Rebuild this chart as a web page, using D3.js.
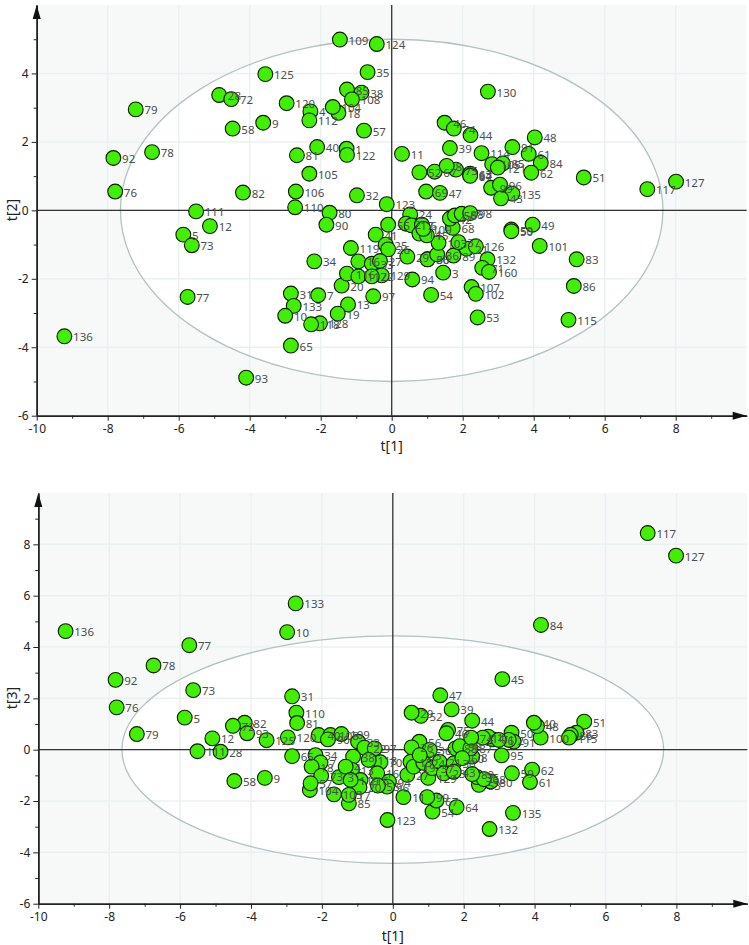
<!DOCTYPE html>
<html>
<head>
  <meta charset="utf-8">
  <title>Score scatter plots</title>
  <script src="https://d3js.org/d3.v7.min.js"></script>
  <style>
    body, html { margin: 0; background: #fff; }
    svg { display: block; font-family: "Noto Sans", sans-serif; }
  </style>
</head>
<body>
  <svg></svg>
  <script>
    // upper plot, t[1] against t[2]
    const ids12 = ["109","125","79","28","72","120","58","9","4","112","18","104","85","38","108","35","124","57","78","92","76","82","40","81","1","122","105","106","32","110","111","80","90","12","5","73","34","119","77","31","7","133","10","13","19","20","65","128","118","136","93","16","33","116","129","117","22","97","41","55","25","26","27","29","30","66","36","89","21","126","103","37","132","71","160","3","94","54","107","102","53","115","86","83","101","49","59","50","68","24","2","17","6","14","15","109","42","56","88","98","123","69","47","11","39","46","74","44","130","114","91","48","61","84","62","51","117","127","52","67","75","8","64","63","87","105","85","121","99","96","135","43"];
    const t1a = [-1.46,-3.56,-7.21,-4.86,-4.52,-2.96,-4.48,-3.62,-2.29,-2.32,-1.50,-1.66,-1.26,-0.85,-1.12,-0.68,-0.42,-0.78,-6.75,-7.84,-7.79,-4.19,-2.10,-2.67,-1.27,-1.26,-2.32,-2.70,-0.98,-2.72,-5.51,-1.75,-1.84,-5.12,-5.87,-5.63,-2.18,-1.15,-5.75,-2.84,-2.07,-2.76,-3.00,-1.23,-1.52,-1.41,-2.84,-2.02,-2.27,-9.22,-4.10,-0.94,-0.56,-1.26,-0.28,-0.94,-0.56,-0.52,-0.45,-0.10,-0.17,-0.10,-0.33,0.44,1.01,1.01,1.28,1.74,2.11,2.37,1.32,1.88,2.70,2.55,2.74,1.45,0.58,1.11,2.25,2.37,2.42,4.98,5.13,5.21,4.17,3.97,3.37,3.37,1.72,0.52,0.40,0.56,0.85,0.78,0.99,0.89,1.64,1.78,1.97,2.21,-0.14,0.97,1.36,0.29,1.64,1.49,1.75,2.22,2.71,2.53,3.40,4.03,3.86,4.20,3.93,5.41,7.20,8.01,0.78,1.21,1.81,1.55,2.21,2.21,2.21,2.83,3.13,2.99,2.80,3.05,3.40,3.08];
    const t2 = [4.99,3.98,2.95,3.37,3.25,3.13,2.39,2.56,2.89,2.63,2.85,3.02,3.53,3.44,3.24,4.04,4.86,2.33,1.70,1.53,0.55,0.52,1.85,1.61,1.80,1.62,1.07,0.55,0.44,0.09,-0.03,-0.07,-0.42,-0.46,-0.71,-1.02,-1.49,-1.10,-2.53,-2.43,-2.48,-2.79,-3.08,-2.75,-3.02,-2.20,-3.95,-3.30,-3.33,-3.68,-4.89,-1.49,-1.56,-1.85,-1.90,-1.93,-1.93,-2.51,-0.71,-0.42,-1.00,-1.14,-1.48,-1.35,-1.43,-1.43,-1.29,-1.32,-1.12,-1.05,-0.95,-0.93,-1.43,-1.68,-1.80,-1.82,-2.02,-2.47,-2.24,-2.44,-3.13,-3.20,-2.21,-1.43,-1.04,-0.42,-0.56,-0.61,-0.51,-0.12,-0.39,-0.44,-0.42,-0.68,-0.73,-0.54,-0.24,-0.15,-0.10,-0.08,0.18,0.55,0.51,1.65,1.82,2.56,2.39,2.20,3.47,1.67,1.85,2.13,1.65,1.39,1.10,0.96,0.62,0.84,1.11,1.13,1.19,1.30,1.04,1.07,1.01,1.35,1.37,1.25,0.66,0.75,0.49,0.35];

    // lower plot, t[1] against t[3]
    const ids13 = ["136","133","10","77","78","92","73","31","76","110","81","5","79","82","72","93","12","125","120","111","28","58","9","65","40","108","109","90","33","22","97","38","70","34","7","18","118","73","13","3","16","116","104","105","4","85","20","17","119","123","11","54","64","67","99","135","132","62","61","59","95","51","83","86","115","100","48","40","45","84","117","127","47","39","44","52","29","75","46","71","1","14","50","91","2","6","56","36","26","27","15","19","129","24","8","25","37","21","23","30","43","88","98","87","60","80","53","74","35","68","89","94","96","55","57"];
    const t1b = [-9.23,-2.74,-2.98,-5.74,-6.75,-7.82,-5.63,-2.84,-7.79,-2.72,-2.70,-5.87,-7.22,-4.18,-4.51,-4.11,-5.09,-3.56,-2.96,-5.51,-4.86,-4.47,-3.61,-2.84,-2.09,-1.76,-1.45,-1.83,-0.98,-0.80,-0.51,-1.12,-0.35,-2.18,-2.04,-2.29,-0.68,-2.02,-1.15,-1.52,-0.44,-0.91,-2.34,-1.66,-1.33,-1.24,-0.94,-1.24,-1.19,-0.15,0.30,1.12,1.80,1.23,0.97,3.39,2.73,3.93,3.87,3.36,3.07,5.40,5.18,5.02,4.97,4.17,4.07,3.98,3.09,4.18,7.19,7.99,1.34,1.66,2.24,0.79,0.53,1.56,1.51,2.82,2.69,2.54,3.35,3.41,3.27,2.99,0.75,1.04,0.53,0.41,0.50,0.59,1.00,0.86,2.24,0.76,1.11,1.32,1.44,1.72,1.72,1.77,1.89,2.19,1.96,2.76,2.43,2.21,2.38,2.57,2.24,-0.11,-0.16,-0.42,-2.32];
    const t3 = [4.62,5.70,4.58,4.07,3.28,2.72,2.32,2.08,1.65,1.44,1.04,1.25,0.61,1.05,0.93,0.64,0.44,0.37,0.48,-0.06,-0.08,-1.22,-1.10,-0.25,0.57,0.57,0.61,0.40,0.31,0.08,0.05,-0.27,-0.49,-0.21,-0.50,-0.66,-0.40,-1.02,-0.79,-1.07,-0.92,-1.18,-1.57,-1.74,-0.66,-2.09,-1.46,-1.76,-1.18,-2.74,-1.85,-2.41,-2.24,-1.98,-1.85,-2.46,-3.09,-0.78,-1.26,-0.92,-0.22,1.09,0.66,0.58,0.47,0.47,0.92,1.05,2.75,4.86,8.44,7.56,2.12,1.57,1.13,1.32,1.44,0.77,0.64,0.40,0.51,0.47,0.66,0.31,0.38,0.38,0.31,-0.01,0.09,-0.98,-0.47,-0.66,-1.10,-0.51,-0.27,-0.21,-0.72,-0.47,-0.92,-0.53,-0.86,0.05,0.14,0.05,-0.33,-1.24,-1.37,0.47,-1.07,-1.15,-0.95,-1.24,-1.44,-1.40,-1.31];

    const xTicks = [-10, -8, -6, -4, -2, 0, 2, 4, 6, 8];
    const xMinor = [-9, -7, -5, -3, -1, 1, 3, 5, 7, 9];
    const yTicks12 = [-6, -4, -2, 0, 2, 4];
    const yMinor12 = [-5, -3, -1, 1, 3, 5];
    const yTicks13 = [-6, -4, -2, 0, 2, 4, 6, 8];
    const yMinor13 = [-5, -3, -1, 1, 3, 5, 7, 9];

    const width = 749;
    const height = 945;
    const svg = d3.select("svg")
      .attr("width", width)
      .attr("height", height)
      .attr("viewBox", [0, 0, width, height]);

    function drawPlot(opt) {
      const x = d3.scaleLinear().domain([-10, 10]).range(opt.xRange);
      const y = d3.scaleLinear().domain(opt.yDomain).range(opt.yRange);
      const g = svg.append("g");

      g.append("rect")
        .attr("x", x(-10)).attr("y", y.range()[1])
        .attr("width", x(10) - x(-10))
        .attr("height", y.range()[0] - y.range()[1])
        .attr("fill", "#f7f9f9");

      // white Hotelling ellipse with its outline
      g.append("ellipse")
        .attr("cx", x(0)).attr("cy", y(0))
        .attr("rx", x(opt.ellipseX) - x(0))
        .attr("ry", y(0) - y(opt.ellipseY))
        .attr("fill", "#fff");

      // grid
      g.append("g").selectAll("line").data(xTicks.slice(1)).join("line")
        .attr("x1", d => x(d)).attr("x2", d => x(d))
        .attr("y1", y.range()[0]).attr("y2", y.range()[1])
        .attr("stroke", "#ebf0f1").attr("stroke-width", 1.5);
      g.append("g").selectAll("line").data(opt.yTicks.slice(1)).join("line")
        .attr("x1", x(-10)).attr("x2", x(10))
        .attr("y1", d => y(d)).attr("y2", d => y(d))
        .attr("stroke", "#ebf0f1").attr("stroke-width", 1.5);

      g.append("ellipse")
        .attr("cx", x(0)).attr("cy", y(0))
        .attr("rx", x(opt.ellipseX) - x(0))
        .attr("ry", y(0) - y(opt.ellipseY))
        .attr("fill", "none")
        .attr("stroke", "#b4c2c2")
        .attr("stroke-width", 1.3);

      // zero lines
      g.append("line")
        .attr("x1", x(-10)).attr("x2", x(10))
        .attr("y1", y(0)).attr("y2", y(0))
        .attr("stroke", "#333").attr("stroke-width", 1.3);
      g.append("line")
        .attr("x1", x(0)).attr("x2", x(0))
        .attr("y1", y.range()[0]).attr("y2", y.range()[1])
        .attr("stroke", "#333").attr("stroke-width", 1.3);

      // axes, major then minor ticks
      const bottom = g.append("g")
        .attr("transform", `translate(0,${y.range()[0]})`)
        .call(d3.axisBottom(x).tickValues(xTicks).tickSize(5).tickSizeOuter(0).tickPadding(4).tickFormat(d => String(d)));
      const bottomMinor = g.append("g")
        .attr("transform", `translate(0,${y.range()[0]})`)
        .call(d3.axisBottom(x).tickValues(xMinor).tickSize(3).tickSizeOuter(0).tickFormat(""));
      const left = g.append("g")
        .attr("transform", `translate(${x(-10)},0)`)
        .call(d3.axisLeft(y).tickValues(opt.yTicks).tickSize(5).tickSizeOuter(0).tickPadding(3).tickFormat(d => String(d)));
      const leftMinor = g.append("g")
        .attr("transform", `translate(${x(-10)},0)`)
        .call(d3.axisLeft(y).tickValues(opt.yMinor).tickSize(3).tickSizeOuter(0).tickFormat(""));
      [bottom, left].forEach(a => a.attr("font-family", null).attr("font-size", 12)
        .call(s => s.selectAll("text").attr("fill", "#222")));
      [bottom, left, bottomMinor, leftMinor].forEach(a => a.selectAll(".domain").attr("stroke", "#222").attr("stroke-width", 1.5));
      [bottom, left, bottomMinor, leftMinor].forEach(a => a.selectAll(".tick line").attr("stroke", "#222"));

      // arrow heads on both axes
      const ax = x(10), ay = y.range()[0], bx = x(-10), by = y.range()[1];
      g.append("path")
        .attr("d", `M${ax},${ay}L${ax - 14},${ay - 4}L${ax - 14},${ay + 4}Z`)
        .attr("fill", "#111");
      g.append("path")
        .attr("d", `M${bx},${by}L${bx - 4},${by + 14}L${bx + 4},${by + 14}Z`)
        .attr("fill", "#111");

      // axis titles
      g.append("text")
        .attr("x", x(0))
        .attr("y", opt.xTitleY)
        .attr("text-anchor", "middle")
        .attr("font-size", 14)
        .attr("fill", "#222")
        .text("t[1]");
      g.append("text")
        .attr("transform", `translate(17,${opt.yTitleAt}) rotate(-90)`)
        .attr("text-anchor", "middle")
        .attr("font-size", 14)
        .attr("fill", "#222")
        .text(opt.yTitle);

      // points, with the labels over them
      const rows = d3.range(opt.ids.length);
      g.append("g").selectAll("circle").data(rows).join("circle")
        .attr("cx", i => x(opt.xs[i]))
        .attr("cy", i => y(opt.ys[i]))
        .attr("r", 7.4)
        .attr("fill", "#40f000")
        .attr("stroke", "#0c1a00")
        .attr("stroke-width", 1.1);
      g.append("g").selectAll("text").data(rows).join("text")
        .attr("x", i => x(opt.xs[i]) + 8.7)
        .attr("y", i => y(opt.ys[i]) + 5)
        .attr("font-size", 11.5)
        .attr("fill", "#4a4f4f")
        .text(i => opt.ids[i]);
    }

    drawPlot({
      ids: ids12, xs: t1a, ys: t2,
      xRange: [36.7, 746.7], yRange: [415.7, 5], yDomain: [-6, 6],
      yTicks: yTicks12, yMinor: yMinor12,
      ellipseX: 7.64, ellipseY: 5,
      xTitleY: 451, yTitleAt: 210, yTitle: "t[2]"
    });
    drawPlot({
      ids: ids13, xs: t1b, ys: t3,
      xRange: [38.3, 747.3], yRange: [903.7, 493], yDomain: [-6, 10],
      yTicks: yTicks13, yMinor: yMinor13,
      ellipseX: 7.64, ellipseY: 4.43,
      xTitleY: 941, yTitleAt: 698, yTitle: "t[3]"
    });
  </script>
</body>
</html>
